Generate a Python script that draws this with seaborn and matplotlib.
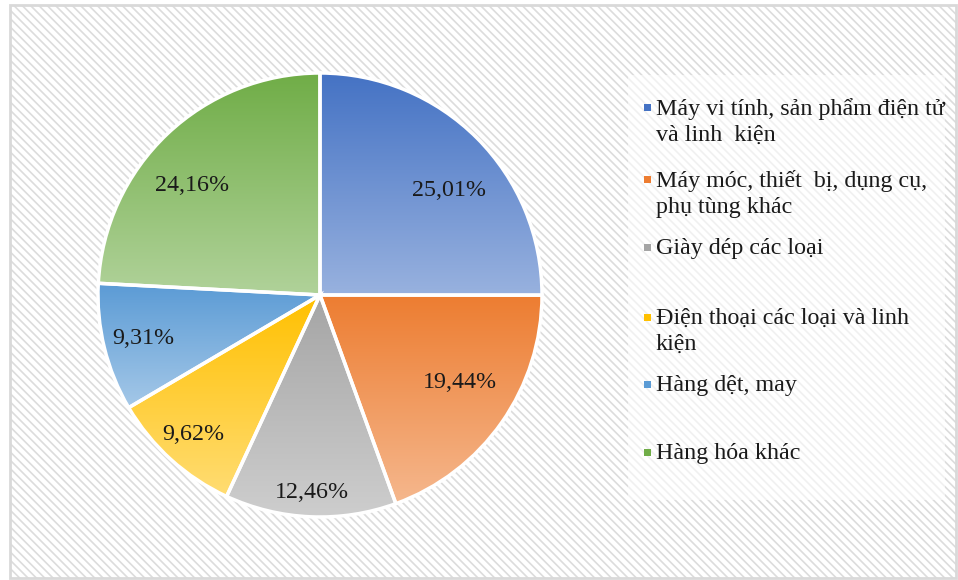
import unicodedata
import numpy as np
import matplotlib
matplotlib.use("Agg")
import matplotlib.pyplot as plt
import matplotlib.colors as mcolors
from matplotlib.patches import Rectangle
import seaborn as sns

# data
labels = [
    "Máy vi tính, sản phẩm điện tử\nvà linh  kiện",
    "Máy móc, thiết  bị, dụng cụ,\nphụ tùng khác",
    "Giày dép các loại",
    "Điện thoại các loại và linh\nkiện",
    "Hàng dệt, may",
    "Hàng hóa khác",
]
labels = [unicodedata.normalize("NFC", s) for s in labels]
shares = [25.01, 19.44, 12.46, 9.62, 9.31, 24.16]
pct_text = ["25,01%", "19,44%", "12,46%", "9,62%", "9,31%", "24,16%"]
colors = ["#4472C4", "#ED7D31", "#A5A5A5", "#FFC000", "#5B9BD5", "#70AD47"]

# label placement (fraction of radius, angle tweak in deg), like excel best-fit
pct_dist = [0.75, 0.745, 0.89, 0.85, 0.82, 0.76]
pct_rot = [-6, 3, 0, 0, 0, 6]

sns.set_style("white")
plt.rcParams['font.family'] = ['Liberation Serif', 'DejaVu Serif']
plt.rcParams['hatch.color'] = '#DCDCDC'
plt.rcParams['hatch.linewidth'] = 1.2

fig = plt.figure(figsize=(9.58, 5.8), dpi=100)
fig.patch.set_facecolor("white")

# hatched chart area with grey border
bg = Rectangle((10/958, 2/580), 946/958, 573/580, transform=fig.transFigure,
               facecolor="white", edgecolor="#DCDCDC", hatch="\\\\\\\\", lw=0, zorder=0)
fig.patches.append(bg)
border = Rectangle((10/958, 2/580), 946/958, 573/580, transform=fig.transFigure,
                   facecolor="none", edgecolor="#D9D9D9", lw=2, zorder=1)
fig.patches.append(border)
# lighter legend area
leg_bg = Rectangle((628/958, 1-500/580), 317/958, 425/580, transform=fig.transFigure,
                   facecolor="white", alpha=0.6, lw=0, zorder=1)
fig.patches.append(leg_bg)

R = 222
cx, cy = 320, 295
ax = fig.add_axes([(cx-R)/958, (580-cy-R)/580, 2*R/958, 2*R/580])
ax.set_axis_off()
ax.set_zorder(2)

wedges, _ = ax.pie(shares, startangle=90, counterclock=False, colors=colors,
                   wedgeprops=dict(edgecolor="white", linewidth=2.5))

# vertical gradient fill per wedge (darker on top, lighter at the bottom)
for w, c in zip(wedges, colors):
    base = np.array(mcolors.to_rgb(c))
    light = base + (1 - base) * 0.45
    t = np.linspace(0, 1, 256)[:, None]
    grad = (base[None, :] * (1 - t) + light[None, :] * t)[:, None, :]
    ext = w.get_path().get_extents()
    im = ax.imshow(grad, extent=[ext.x0, ext.x1, ext.y0, ext.y1], origin="upper",
                   aspect="auto", zorder=1, interpolation="bilinear")
    im.set_clip_path(w)
    w.set_facecolor("none")
    w.set_zorder(2)

# percentage labels
cum = 0.0
for s, txt, d, rot in zip(shares, pct_text, pct_dist, pct_rot):
    mid = np.deg2rad(90 - 360 * (cum + s / 2) / 100 + rot)
    cum += s
    ax.text(d * np.cos(mid), d * np.sin(mid), txt, ha="center", va="center",
            fontsize=17.3, color="#1a1a1a", zorder=3)

ax.set_xlim(-1, 1)
ax.set_ylim(-1, 1)

# legend drawn by hand, marker next to first line of each entry
y_top = [108, 180, 248, 318, 385, 453]
for lab, c, y in zip(labels, colors, y_top):
    fig.patches.append(Rectangle((644/958, 1-(y+3)/580), 7/958, 7/580,
                                 transform=fig.transFigure, facecolor=c, lw=0, zorder=3))
    fig.text(656/958, 1-(y-10)/580, lab, ha="left", va="top", fontsize=17.3,
             family="Liberation Serif", color="#1a1a1a", linespacing=1.32)

fig.savefig("out.png", dpi=100)
